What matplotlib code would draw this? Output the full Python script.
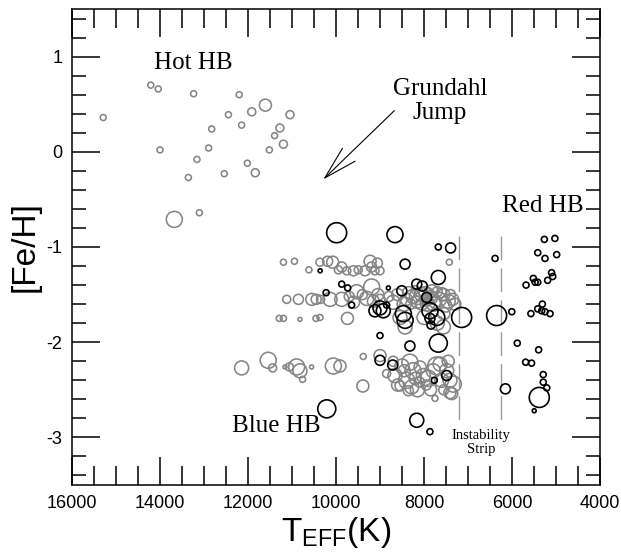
import numpy as np
import matplotlib
matplotlib.use("Agg")
import matplotlib.pyplot as plt
from matplotlib.ticker import MultipleLocator

plt.rcParams['font.family'] = ['Liberation Sans', 'DejaVu Sans']
plt.rcParams['mathtext.fontset'] = 'custom'
plt.rcParams['mathtext.rm'] = 'Liberation Sans'
plt.rcParams['axes.unicode_minus'] = False

# (Teff [K], [Fe/H], weight) for each star; weight sets the circle size
grey_hot = [
    (15290, 0.36, 1), (14210, 0.70, 1), (14040, 0.66, 1), (13235, 0.61, 1),
    (12200, 0.60, 1), (11605, 0.49, 4), (11915, 0.42, 2), (12445, 0.39, 1),
    (11045, 0.39, 2), (12145, 0.28, 1), (12825, 0.24, 1), (11275, 0.25, 2),
    (11395, 0.17, 1), (11195, 0.08, 2), (14000, 0.02, 1), (12895, 0.04, 1),
    (11515, 0.02, 1), (13160, -0.08, 1), (12015, -0.12, 1), (11835, -0.22, 2),
    (12540, -0.23, 1), (13355, -0.27, 1), (13675, -0.71, 6), (13105, -0.64, 1),
]

grey_upper = [
    (11195, -1.16, 1), (10945, -1.15, 1), (10615, -1.24, 1), (10365, -1.16, 2),
    (10190, -1.15, 3), (10075, -1.16, 4), (9945, -1.24, 2), (9870, -1.21, 3),
    (9755, -1.25, 2), (9605, -1.25, 3), (9495, -1.24, 2), (9340, -1.25, 3),
    (9225, -1.15, 4), (9190, -1.21, 3), (9115, -1.25, 2), (9060, -1.17, 3),
    (9000, -1.25, 2), (7425, -1.16, 1),
]

grey_middle = [
    (11120, -1.55, 2), (10855, -1.55, 3), (10550, -1.55, 4), (10450, -1.55, 3),
    (10350, -1.55, 2), (10135, -1.55, 5), (9870, -1.55, 5), (9700, -1.52, 3),
    (9600, -1.58, 4), (9530, -1.47, 5), (9400, -1.50, 3), (9300, -1.54, 5),
    (9190, -1.42, 6), (9150, -1.57, 4), (9050, -1.50, 4), (9000, -1.55, 3),
    (8800, -1.52, 3), (8700, -1.58, 5), (8600, -1.50, 4), (8450, -1.60, 5),
    (8400, -1.55, 4), (8350, -1.48, 4), (8300, -1.60, 3), (8250, -1.52, 5),
    (8200, -1.45, 2), (8150, -1.58, 4), (8150, -1.52, 6), (8100, -1.48, 2),
    (8050, -1.50, 5), (8050, -1.60, 4), (8000, -1.55, 2), (7980, -1.48, 4),
    (7950, -1.56, 4), (7920, -1.60, 5), (7900, -1.47, 2), (7850, -1.53, 5),
    (7820, -1.46, 4), (7800, -1.52, 2), (7780, -1.60, 5), (7750, -1.58, 4),
    (7700, -1.47, 3), (7650, -1.55, 5), (7600, -1.48, 3), (7550, -1.50, 4),
    (7500, -1.62, 4), (7450, -1.57, 5), (7400, -1.50, 3), (7350, -1.55, 4),
    (7300, -1.60, 4),
]

grey_lower = [
    (11290, -1.75, 1), (11195, -1.75, 1), (10820, -1.76, 0), (10455, -1.75, 1),
    (10365, -1.74, 1), (9740, -1.75, 4), (8545, -1.74, 5), (8430, -1.84, 5),
    (8000, -1.74, 5), (7700, -1.80, 5), (7560, -1.84, 5), (7550, -1.70, 4),
]

grey_poor = [
    (12145, -2.27, 5), (11540, -2.19, 6), (11440, -2.27, 2), (11160, -2.26, 0),
    (11060, -2.26, 2), (10895, -2.26, 6), (10820, -2.30, 5), (10760, -2.39, 1),
    (10555, -2.26, 0), (10060, -2.25, 6), (9910, -2.25, 4), (9380, -2.15, 1),
    (9000, -2.14, 4), (9390, -2.46, 4), (8850, -2.33, 2), (8700, -2.20, 3),
    (8660, -2.35, 5), (8600, -2.45, 4), (8545, -2.46, 3), (8450, -2.30, 4),
    (8320, -2.21, 6), (8500, -2.25, 5), (8395, -2.40, 6), (8280, -2.47, 5),
    (8250, -2.30, 6), (8355, -2.51, 3), (8200, -2.38, 4), (8150, -2.50, 5),
    (8100, -2.42, 3), (8090, -2.26, 4), (8015, -2.35, 5), (7950, -2.45, 3),
    (7900, -2.38, 6), (7850, -2.50, 4), (7790, -2.30, 5), (7710, -2.25, 7),
    (7635, -2.23, 5), (7600, -2.40, 5), (7550, -2.50, 3), (7485, -2.30, 5),
    (7450, -2.20, 4), (7410, -2.40, 5), (7335, -2.44, 6), (7410, -2.53, 4),
    (7370, -2.54, 4), (7750, -2.59, 1),
]

black_blue = [
    (9985, -0.85, 8), (8660, -0.87, 6), (7675, -1.00, 1), (7395, -1.01, 3),
    (6385, -1.12, 1), (8430, -1.18, 3), (10360, -1.25, 0), (7675, -1.32, 5),
    (9870, -1.39, 1), (9735, -1.43, 1), (8810, -1.43, 0), (8165, -1.39, 3),
    (8040, -1.41, 3), (8505, -1.46, 3), (7940, -1.53, 3), (10225, -1.48, 1),
    (9645, -1.61, 1), (9000, -1.64, 5), (8850, -1.61, 1), (9115, -1.67, 4),
    (8925, -1.67, 5), (8470, -1.70, 6), (8430, -1.77, 6), (7865, -1.67, 6),
    (7710, -1.74, 6), (7865, -1.75, 3), (7840, -1.82, 2), (7145, -1.74, 8),
    (6350, -1.72, 8), (6005, -1.68, 1), (9000, -1.93, 1), (8320, -2.04, 3),
    (7675, -2.01, 7), (9000, -2.19, 3), (8710, -2.24, 3), (7485, -2.35, 3),
    (7765, -2.40, 1), (10210, -2.70, 7), (8165, -2.82, 5), (7865, -2.94, 1),
    (6150, -2.49, 3),
]

black_red = [
    (5265, -0.92, 1), (5025, -0.91, 1), (5415, -1.06, 1), (4985, -1.08, 1),
    (5250, -1.12, 1), (5680, -1.40, 1), (5515, -1.33, 1), (5475, -1.37, 1),
    (5415, -1.37, 1), (5190, -1.35, 1), (5100, -1.27, 1), (5075, -1.31, 1),
    (5570, -1.70, 1), (5415, -1.65, 1), (5310, -1.60, 1), (5325, -1.67, 1),
    (5250, -1.68, 1), (5135, -1.70, 1), (5880, -2.01, 1), (5395, -2.08, 1),
    (5690, -2.21, 1), (5555, -2.22, 1), (5290, -2.34, 1), (5290, -2.42, 1),
    (5210, -2.48, 1), (5380, -2.58, 8), (5495, -2.72, 0),
]

# instability strip edges
strip_edges = [7200, 6240]


def circle_area(weight):
    # circle diameter grows linearly with weight (pixels -> points)
    diam_pt = (4.0 + 2.0 * np.asarray(weight)) * 0.72
    return diam_pt ** 2


def draw_group(ax, stars, color, lw):
    arr = np.array(stars, dtype=float)
    ax.scatter(arr[:, 0], arr[:, 1], s=circle_area(arr[:, 2]),
               facecolors='none', edgecolors=color, linewidths=lw, zorder=3)


fig = plt.figure(figsize=(6.21, 5.54), dpi=100)
ax = fig.add_axes([72 / 621, 1 - 485 / 554, 528 / 621, 476 / 554])

grey = '#858585'
for grp in (grey_hot, grey_upper, grey_middle, grey_lower, grey_poor):
    draw_group(ax, grp, grey, 1.15)
for grp in (black_blue, black_red):
    draw_group(ax, grp, 'black', 1.2)

# dashed boundaries of the instability strip
for t in strip_edges:
    ax.plot([t, t], [-0.88, -2.89], color='#999999', lw=1.0,
            dashes=(17, 6), zorder=2)

ax.set_xlim(16000, 4000)
ax.set_ylim(-3.5, 1.5)

ax.xaxis.set_major_locator(MultipleLocator(2000))
ax.xaxis.set_minor_locator(MultipleLocator(500))
ax.yaxis.set_major_locator(MultipleLocator(1))
ax.yaxis.set_minor_locator(MultipleLocator(0.2))

ax.tick_params(which='both', direction='in', top=True, right=True,
               width=1.1, colors='black')
ax.tick_params(which='major', length=20, labelsize=13, pad=7)
ax.tick_params(axis='x', which='minor', length=14)
ax.tick_params(axis='y', which='minor', length=10)
ax.set_xticks(np.arange(4000, 16001, 2000))
ax.set_xticklabels([str(v) for v in range(4000, 16001, 2000)])
ax.set_yticks([-3, -2, -1, 0, 1])
ax.set_yticklabels(['-3', '-2', '-1', '0', '1'])

for sp in ax.spines.values():
    sp.set_linewidth(1.1)

ax.set_xlabel(r'T$_{\rm EFF}$(K)', fontsize=24, labelpad=2)
ax.set_ylabel('[Fe/H]', fontsize=24, labelpad=4)

serif = ['Liberation Serif', 'DejaVu Serif']
ax.text(13240, 0.87, 'Hot HB', family=serif, fontsize=18,
        ha='center', va='baseline')
ax.text(7636, 0.534, 'Grundahl\nJump', family=serif, fontsize=18,
        ha='center', va='center', linespacing=1.1)
ax.text(6234, -0.632, 'Red HB', family=serif, fontsize=18,
        ha='left', va='baseline')
ax.text(12371, -2.947, 'Blue HB', family=serif, fontsize=18,
        ha='left', va='baseline')
ax.text(6700, -2.91, 'Instability\nStrip', family=serif, fontsize=10.5,
        ha='center', va='top', linespacing=1.15)

ax.annotate('', xy=(10289, -0.29), xytext=(8675, 0.432),
            arrowprops=dict(arrowstyle='->, head_length=2.4, head_width=0.65',
                            lw=0.8, color='black', mutation_scale=10,
                            shrinkA=0, shrinkB=0))

fig.savefig('out.png', dpi=100)
